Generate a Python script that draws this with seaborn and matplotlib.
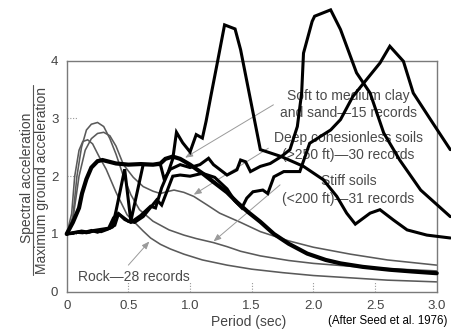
import matplotlib
matplotlib.use("Agg")
import matplotlib.pyplot as plt
import seaborn as sns

# ---------------- data ----------------
x_ticks = [0, 0.5, 1.0, 1.5, 2.0, 2.5, 3.0]
x_tick_labels = ["0", "0.5", "1.0", "1.5", "2.0", "2.5", "3.0"]
y_ticks = [0, 1, 2, 3, 4]
y_tick_labels = ["0", "1", "2", "3", "4"]

# thin grey average spectra
rock_T = [0, 0.04, 0.065, 0.10, 0.13, 0.17, 0.21, 0.26, 0.32, 0.40, 0.49, 0.56, 0.62, 0.68,
          0.76, 0.84, 0.95, 1.1, 1.3, 1.5, 1.75, 2.0, 2.3, 2.6, 3.0]
rock_S = [1.0, 1.35, 2.0, 2.45, 2.6, 2.63, 2.56, 2.35, 2.12, 1.72, 1.33, 1.18, 1.05, 0.93,
          0.82, 0.74, 0.65, 0.55, 0.46, 0.39, 0.33, 0.28, 0.24, 0.20, 0.17]

stiff_T = [0, 0.05, 0.083, 0.12, 0.16, 0.2, 0.25, 0.3, 0.35, 0.4, 0.46, 0.52, 0.59, 0.7,
           0.83, 0.95, 1.05, 1.19, 1.3, 1.41, 1.57, 1.8, 2.0, 2.3, 2.6, 3.0]
stiff_S = [1.0, 1.3, 2.0, 2.5, 2.8, 2.9, 2.93, 2.86, 2.65, 2.38, 2.0, 1.68, 1.42, 1.22,
           1.07, 0.98, 0.92, 0.85, 0.78, 0.70, 0.62, 0.54, 0.49, 0.44, 0.40, 0.36]

deep_T = [0, 0.05, 0.1, 0.15, 0.2, 0.25, 0.3, 0.35, 0.4, 0.46, 0.54, 0.62, 0.7, 0.76, 0.81,
          0.87, 0.95, 1.03, 1.14, 1.24, 1.41, 1.57, 1.8, 2.0, 2.3, 2.6, 3.0]
deep_S = [1.0, 1.25, 2.0, 2.45, 2.65, 2.74, 2.76, 2.7, 2.52, 2.2, 1.98, 1.82, 1.74, 1.70, 1.73,
          1.76, 1.72, 1.65, 1.5, 1.36, 1.2, 1.04, 0.88, 0.77, 0.65, 0.55, 0.46]

# thick black average (soft to medium clay and sand)
soft_T = [0, 0.05, 0.1, 0.124, 0.16, 0.2, 0.25, 0.29, 0.4, 0.5, 0.6, 0.7, 0.76, 0.8, 0.86,
          0.92, 1.0, 1.1, 1.19, 1.3, 1.38, 1.47, 1.57, 1.68, 1.8, 1.95, 2.1, 2.22, 2.4,
          2.62, 2.8, 3.0]
soft_S = [1.0, 1.2, 1.45, 1.7, 1.95, 2.15, 2.26, 2.28, 2.22, 2.2, 2.21, 2.2, 2.22, 2.3, 2.34,
          2.3, 2.2, 2.05, 1.9, 1.72, 1.55, 1.38, 1.21, 1.0, 0.83, 0.66, 0.55, 0.49, 0.43,
          0.38, 0.35, 0.32]

# individual (jagged) records
rec1_T = [0, 0.06, 0.12, 0.18, 0.22, 0.28, 0.34, 0.38, 0.42, 0.47, 0.52, 0.6, 0.68, 0.72,
          0.77, 0.82, 0.86, 0.89, 0.94, 1.0, 1.05, 1.1, 1.13, 1.17, 1.22, 1.28, 1.365, 1.41,
          1.57, 1.74, 1.92, 2.08, 2.19, 2.27, 2.34, 2.46, 2.54, 2.65, 2.76, 2.92, 3.11]
rec1_S = [1.0, 1.02, 1.05, 1.03, 1.06, 1.08, 1.10, 1.28, 1.35, 1.25, 1.20, 1.32, 1.48, 1.45,
          1.80, 2.05, 2.30, 2.76, 2.58, 2.42, 2.72, 2.66, 2.95, 3.4, 3.95, 4.62, 4.55, 4.19,
          2.46, 2.34, 2.17, 1.94, 1.65, 1.36, 1.17, 1.36, 1.42, 1.24, 1.07, 0.98, 0.93]

rec2_T = [0, 0.05, 0.1, 0.16, 0.22, 0.28, 0.33, 0.37, 0.40, 0.47, 0.52, 0.62, 0.72, 0.76,
          0.79, 0.84, 0.92, 1.0, 1.08, 1.15, 1.19, 1.3, 1.38, 1.41, 1.45, 1.49, 1.57, 1.65,
          1.74, 1.81, 1.87, 1.905, 1.92, 1.99, 2.01, 2.14, 2.22, 2.35, 2.46, 2.57, 2.70,
          2.87, 3.11]
rec2_S = [1.0, 1.01, 1.04, 1.02, 1.05, 1.04, 1.08, 1.12, 1.4, 2.12, 1.22, 2.2, 2.2, 2.2,
          1.95, 2.12, 2.2, 2.15, 2.2, 2.31, 2.2, 2.02, 2.11, 2.28, 2.25, 2.08, 2.17, 2.22,
          2.34, 2.46, 2.86, 3.44, 4.13, 4.68, 4.77, 4.88, 4.54, 3.79, 3.44, 2.75, 2.28,
          1.76, 1.30]

rec3_T = [0, 0.07, 0.13, 0.2, 0.25, 0.3, 0.35, 0.39, 0.42, 0.5, 0.55, 0.62, 0.73, 0.77,
          0.86, 0.92, 1.0, 1.1, 1.2, 1.3, 1.36, 1.42, 1.46, 1.51, 1.59, 1.63, 1.68, 1.76,
          1.89, 1.97, 2.14, 2.22, 2.32, 2.43, 2.54, 2.62, 2.73, 2.81, 2.95, 3.11]
rec3_S = [1.0, 1.03, 1.02, 1.06, 1.03, 1.07, 1.10, 1.15, 1.35, 1.22, 1.2, 1.3, 1.59, 1.5,
          2.0, 2.02, 2.0, 2.05, 1.98, 1.78, 1.58, 1.45, 1.62, 1.73, 1.76, 1.70, 1.99, 2.08,
          2.08, 2.57, 2.80, 2.98, 3.38, 3.67, 3.96, 4.25, 3.99, 3.44, 2.98, 2.46]

# annotation texts
labels_right = ["Soft to medium clay", "and sand\u201415 records",
                "Deep cohesionless soils", "(>250 ft)\u201430 records",
                "Stiff soils", "(<200 ft)\u201431 records"]
labels_right_y = [3.38, 3.10, 2.66, 2.37, 1.91, 1.61]
rock_label = "Rock\u201428 records"

# ---------------- styling ----------------
sns.set_style("white")
plt.rcParams["font.family"] = ["Liberation Sans", "DejaVu Sans"]

fig = plt.figure(figsize=(4.51, 3.32), dpi=100)
ax = fig.add_axes([0.1479, 0.1214, 0.8204, 0.6958])

grey = "#5a5a5a"
for T, S in [(rock_T, rock_S), (stiff_T, stiff_S), (deep_T, deep_S)]:
    sns.lineplot(x=T, y=S, ax=ax, sort=False, estimator=None, color=grey,
                 linewidth=1.15, zorder=2)

# annotation text (behind black curves)
for txt, yy in zip(labels_right, labels_right_y):
    ax.text(2.285, yy, txt, ha="center", va="center", fontsize=10, color="#4a4a4a", zorder=3)
ax.text(0.094, 0.26, rock_label, ha="left", va="center", fontsize=10, color="#4a4a4a", zorder=3)

arrow_kw = dict(arrowstyle="-|>,head_length=0.45,head_width=0.18", color="#9a9a9a",
                lw=0.7, shrinkA=0, shrinkB=0)
for start, end in [((1.676, 3.236), (0.96, 2.32)),
                   ((1.635, 2.485), (1.03, 1.68)),
                   ((1.73, 1.85), (1.19, 0.87)),
                   ((0.50, 0.46), (0.67, 0.87))]:
    ax.annotate("", xy=end, xytext=start, arrowprops=arrow_kw, zorder=3)

# black curves
sns.lineplot(x=soft_T, y=soft_S, ax=ax, sort=False, estimator=None, color="black",
             linewidth=3.0, zorder=4)
for T, S in [(rec1_T, rec1_S), (rec2_T, rec2_S), (rec3_T, rec3_S)]:
    sns.lineplot(x=T, y=S, ax=ax, sort=False, estimator=None, color="black",
                 linewidth=2.2, zorder=5)
for ln in ax.lines:
    ln.set_clip_on(False)
    ln.set_solid_joinstyle("miter")

ax.set_xlim(0, 3.0)
ax.set_ylim(0, 4)
ax.set_xticks(x_ticks)
ax.set_xticklabels(x_tick_labels)
ax.set_yticks(y_ticks)
ax.set_yticklabels(y_tick_labels)
ax.tick_params(direction="in", length=0, labelsize=9.5, labelcolor="#444444")
ax.tick_params(axis="x", pad=6)
ax.tick_params(axis="y", pad=6)

# short dotted inward tick marks (as in the reference)
for t in x_ticks[1:-1]:
    ax.plot([t, t], [0, 0.04], transform=ax.get_xaxis_transform(), ls=(0, (1, 1.5)),
            color="#999999", lw=0.8, zorder=1)
for t in y_ticks[1:-1]:
    ax.plot([0, 0.03], [t, t], transform=ax.get_yaxis_transform(), ls=(0, (1, 1.5)),
            color="#999999", lw=0.8, zorder=1)

for sp in ax.spines.values():
    sp.set_color("#7a7a7a")
    sp.set_linewidth(1.0)
ax.set_xlabel("")
ax.set_ylabel("")

# axis titles
fig.text(248.5 / 451, 1 - 322 / 332, "Period (sec)", ha="center", va="center",
         fontsize=10, color="#444444")
fig.text(26.7 / 451, 1 - 178 / 332, "Spectral acceleration", rotation=90,
         ha="center", va="center", fontsize=10, color="#444444")
fig.text(41.7 / 451, 1 - 180 / 332, "Maximum ground acceleration", rotation=90,
         ha="center", va="center", fontsize=10, color="#444444")
fig.add_artist(plt.Line2D([33.3 / 451, 33.3 / 451], [1 - 275 / 332, 1 - 85 / 332],
                          transform=fig.transFigure, color="#555555", lw=0.8))
fig.text(447.7 / 451, 1 - 321 / 332, "(After Seed et al. 1976)", ha="right", va="center",
         fontsize=8.3, color="black")

fig.savefig("out.png", dpi=100)
